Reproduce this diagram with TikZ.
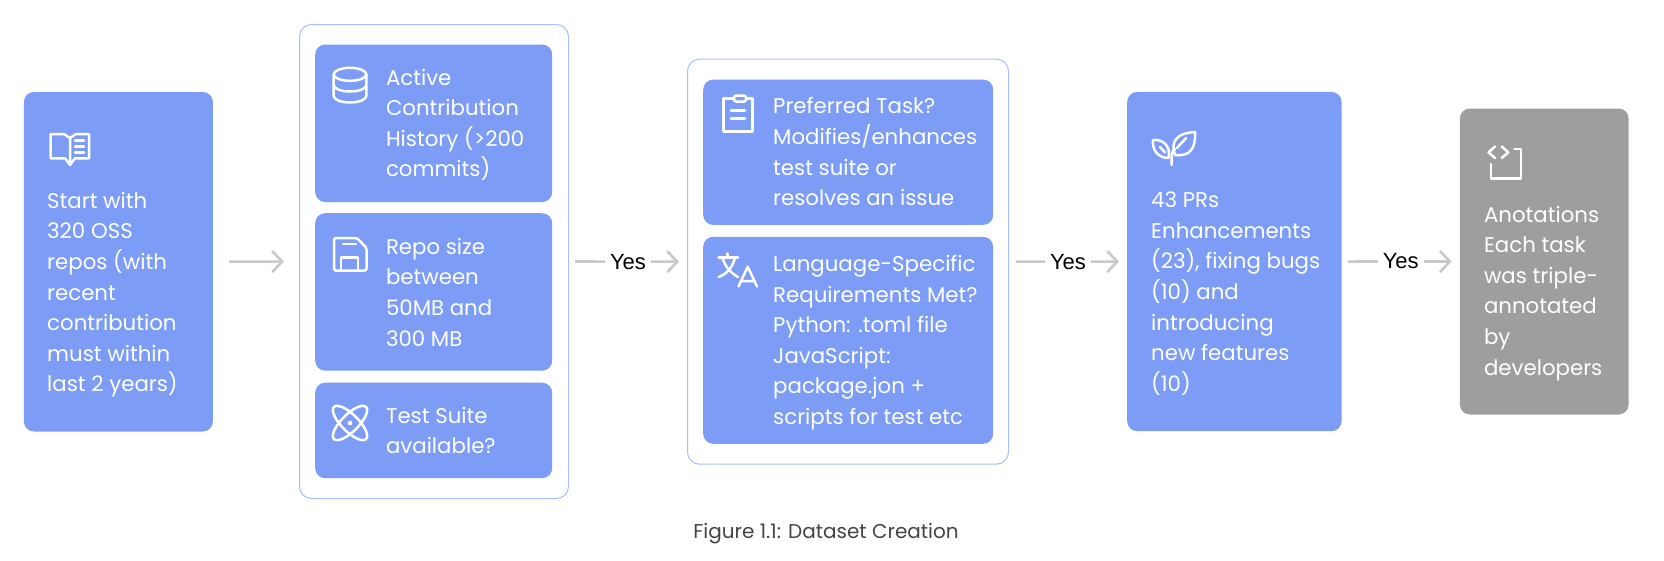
\documentclass[tikz,border=0pt]{standalone}
\usepackage{fontspec}
\setmainfont{Poppins}
\newfontfamily\yesfont{Liberation Sans}
\usetikzlibrary{arrows.meta}
\definecolor{tile-blue}{HTML}{7C9CF6}
\definecolor{outline-blue}{HTML}{A9BFF9}
\definecolor{tile-grey}{HTML}{9E9E9E}
\definecolor{arrow-grey}{HTML}{C9C9C9}
\definecolor{caption-grey}{HTML}{444444}
\tikzset{
    tile/.style = {fill=tile-blue, rectangle, rounded corners=10pt, inner sep=0pt, anchor=north west},
    grey-tile/.style = {tile, fill=tile-grey},
    group-box/.style = {draw=outline-blue, line width=1pt, fill=white, rectangle, rounded corners=12pt, inner sep=0pt, anchor=north west},
    tile-text/.style = {text=white, font=\fontsize{21.3}{30.6}\selectfont, align=left, anchor=base west, inner sep=0pt},
    flow-arrow/.style = {draw=arrow-grey, line width=2.6pt, -{Straight Barb[length=10pt, width=21pt, line width=2.6pt]}},
    yes-label/.style = {fill=white, text=black, font=\yesfont\fontsize{22}{24}\selectfont, inner xsep=5pt, inner ysep=2pt},
    icon/.style = {draw=white, line width=2.5pt, line join=round, line cap=round},
    book-icon/.pic = {
        \draw[icon] (70,138) -- (64,134) -- (50.7,134) -- (50.7,158.3) -- (65,158.3) -- (70,165) -- (75,158.3)
            -- (89,158.3) -- (89,134) -- (76,134) -- cycle (70,138) -- (70,164);
        \foreach \y in {140.7,146.7,152.7} \draw[icon] (75,\y) -- (84,\y);
    },
    base-icon/.pic = {
        \draw[icon] (350,74.3) ellipse (16.3 and 6.5);
        \draw[icon] (333.7,74.3) -- (333.7,96) arc (180:0:16.3 and 6.5) -- (366.3,74.3);
        \draw[icon] (333.7,85) arc (180:0:16.3 and 6.5);
    },
    disk-icon/.pic = {
        \draw[icon, rounded corners=1.5pt] (334,238) -- (357,238) -- (366.5,248) -- (366.5,270.5) -- (334,270.5) -- cycle;
        \draw[icon] (343,244) -- (356,244);
        \draw[icon] (341,270) -- (341,257.5) -- (358,257.5) -- (358,270);
    },
    atom-icon/.pic = {
        \draw[icon, rotate around={45:(350,423)}] (350,423) ellipse (22.7 and 8.5);
        \draw[icon, rotate around={-45:(350,423)}] (350,423) ellipse (22.7 and 8.5);
        \fill[white] (350,423) circle (2.3);
    },
    board-icon/.pic = {
        \draw[icon] (734,98.5) -- (723.5,98.5) -- (723.5,131.5) -- (752.5,131.5) -- (752.5,98.5) -- (746,98.5);
        \draw[icon, rounded corners=2pt] (734,101.5) -- (734,95.5) -- (746,95.5) -- (746,101.5) -- cycle;
        \draw[icon] (731,110.5) -- (745,110.5) (731,118.6) -- (745,118.6);
    },
    lang-icon/.pic = {
        \draw[icon] (718.5,257.5) -- (738,257.5) (727.7,253.5) -- (727.7,257.5);
        \draw[icon] (722.7,258) .. controls (725,267) and (731,273) .. (738,277);
        \draw[icon] (735,258) .. controls (732,268) and (727,274) .. (718.5,277);
        \draw[icon] (738.5,286.5) -- (747.7,266.7) -- (757,286.5) (742.5,281) -- (753,281);
    },
    leaf-icon/.pic = {
        \draw[icon] (1171.7,165) -- (1171.7,156) .. controls (1171.7,152) and (1173,150) .. (1175,149);
        \draw[icon] (1175,155) .. controls (1170,140) and (1178,133) .. (1195,132) .. controls (1196,148) and (1190,157) .. cycle;
        \draw[icon] (1177,148) -- (1186,138);
        \draw[icon] (1168.5,158) .. controls (1158,158) and (1152,150) .. (1153,140) .. controls (1163,139) and (1171,146) .. cycle;
        \draw[icon] (1160,147) -- (1165,152.5);
    },
    code-icon/.pic = {
        \draw[icon] (1495,146.5) -- (1488.5,152.3) -- (1495,158);
        \draw[icon] (1501.7,146.5) -- (1508.3,152.3) -- (1501.7,158);
        \draw[icon] (1514.3,149) -- (1521,149) -- (1521,178.3) -- (1491,178.3) -- (1491,164);
    },
}
\begin{document}
\begin{tikzpicture}[x=1pt, y=-1pt]
\useasboundingbox (0,0) rectangle (1664,560);

\node[tile, minimum width=189pt, minimum height=339.5pt] (start-tile) at (23.7,91.8) {};
\node[tile-text] (start-text) at (47,391.8) {Start with\\320 OSS\\repos (with\\recent\\contribution\\must within\\last 2 years)};

\node[group-box, minimum width=269pt, minimum height=474pt] (repo-group) at (299,24) {};
\node[tile, minimum width=237pt, minimum height=157.5pt] (active-tile) at (315,44.3) {};
\node[tile, minimum width=237pt, minimum height=157.5pt] (size-tile) at (315,213) {};
\node[tile, minimum width=237pt, minimum height=95.5pt] (suite-tile) at (315,382.5) {};
\node[tile-text] (active-text) at (385.8,176.8) {Active\\Contribution\\History (>200\\commits)};
\node[tile-text] (size-text) at (385.8,346.1) {Repo size\\between\\50MB and\\300 MB};
\node[tile-text] (suite-text) at (385.8,453.6) {Test Suite\\available?};

\node[group-box, minimum width=321pt, minimum height=405pt] (task-group) at (687,58.7) {};
\node[tile, minimum width=290pt, minimum height=145.3pt] (task-tile) at (703,79.4) {};
\node[tile, minimum width=290pt, minimum height=207pt] (lang-tile) at (703,236.6) {};
\node[tile-text] (task-text) at (773,205.6) {Preferred Task?\\Modifies/enhances\\test suite or\\resolves an issue};
\node[tile-text] (lang-text) at (773,424.4) {Language-Specific\\Requirements Met?\\Python: .toml file\\JavaScript:\\package.jon +\\scripts for test etc};

\node[tile, minimum width=214.4pt, minimum height=339.3pt] (pr-tile) at (1127,91.7) {};
\node[tile-text] (pr-text) at (1151,391.3) {43 PRs\\Enhancements\\(23), fixing bugs\\(10) and\\introducing\\new features\\(10)};

\node[grey-tile, minimum width=168.7pt, minimum height=306pt] (note-tile) at (1459.7,108.3) {};
\node[tile-text] (note-text) at (1483.8,375) {Anotations\\Each task\\was triple-\\annotated\\by\\developers};

\pic {book-icon};
\pic {base-icon};
\pic {disk-icon};
\pic {atom-icon};
\pic {board-icon};
\pic {lang-icon};
\pic {leaf-icon};
\pic {code-icon};

\draw[flow-arrow, shorten <=16pt, shorten >=15pt] (start-tile.east) -- (repo-group.west);
\draw[flow-arrow, shorten <=6pt, shorten >=8pt] (repo-group.east) -- node[yes-label] (yes-one) {Yes} (task-group.west);
\draw[flow-arrow, shorten <=6.5pt, shorten >=8pt] (task-group.east) -- node[yes-label] (yes-two) {Yes} (pr-tile.west);
\draw[flow-arrow, shorten <=6pt, shorten >=8pt] (pr-tile.east) -- node[yes-label] (yes-three) {Yes} (note-tile.west);

\node[text=caption-grey, font=\fontsize{20}{24}\selectfont, inner sep=0pt] (caption) at (826,534) {Figure 1.1: Dataset Creation};
\end{tikzpicture}
\end{document}
